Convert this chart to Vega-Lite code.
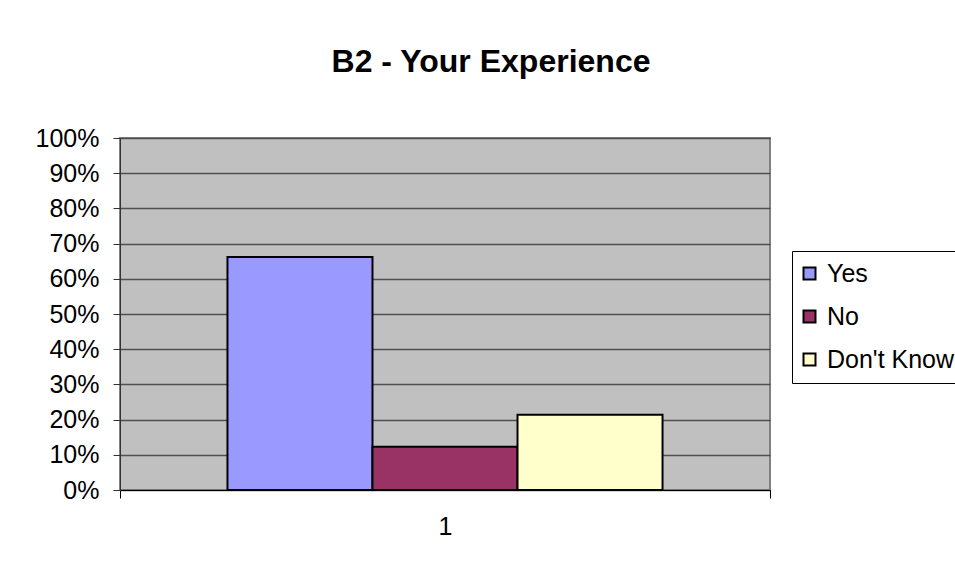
{
  "$schema": "https://vega.github.io/schema/vega-lite/v6.json",
  "autosize": "none",
  "width": 650,
  "height": 352,
  "padding": {"left": 120, "top": 138, "right": 185, "bottom": 75},
  "background": "white",
  "title": {
    "text": "B2 - Your Experience",
    "font": "Liberation Sans",
    "fontSize": 32,
    "fontWeight": "bold",
    "color": "black",
    "anchor": "middle",
    "dx": 46,
    "offset": 22,
    "baseline": "alphabetic"
  },
  "data": {
    "values": [
      {"category": "1", "answer": "Yes", "share": 0.662},
      {"category": "1", "answer": "No", "share": 0.123},
      {"category": "1", "answer": "Don't Know", "share": 0.214}
    ]
  },
  "mark": {"type": "bar", "stroke": "black", "strokeWidth": 2},
  "encoding": {
    "x": {
      "field": "category",
      "type": "nominal",
      "scale": {"paddingInner": 0, "paddingOuter": 0},
      "axis": {
        "title": null,
        "labelAngle": 0,
        "tickBand": "extent",
        "tickSize": 8,
        "tickColor": "black",
        "domainColor": "black",
        "labelFont": "Liberation Sans",
        "labelFontSize": 25,
        "labelColor": "black",
        "labelPadding": 16,
        "grid": false
      }
    },
    "xOffset": {
      "field": "answer",
      "type": "nominal",
      "sort": ["Yes", "No", "Don't Know"],
      "scale": {"paddingInner": 0, "paddingOuter": 0.741}
    },
    "y": {
      "field": "share",
      "type": "quantitative",
      "scale": {"domain": [0, 1]},
      "axis": {
        "title": null,
        "format": ".0%",
        "values": [0, 0.1, 0.2, 0.3, 0.4, 0.5, 0.6, 0.7, 0.8, 0.9, 1],
        "tickSize": 7,
        "tickColor": "#333333",
        "domainColor": "#333333",
        "labelFont": "Liberation Sans",
        "labelFontSize": 25,
        "labelColor": "black",
        "labelPadding": 14,
        "grid": true,
        "gridColor": "#505050",
        "gridWidth": 1.3
      }
    },
    "color": {
      "field": "answer",
      "type": "nominal",
      "sort": ["Yes", "No", "Don't Know"],
      "scale": {"domain": ["Yes", "No", "Don't Know"], "range": ["#9999FF", "#993366", "#FFFFCC"]},
      "legend": {
        "title": null,
        "orient": "none",
        "legendX": 672,
        "legendY": 113,
        "symbolType": "square",
        "symbolSize": 144,
        "symbolOffset": -5,
        "symbolStrokeColor": "black",
        "symbolStrokeWidth": 2,
        "labelFont": "Liberation Sans",
        "labelFontSize": 25,
        "labelColor": "black",
        "labelOffset": 5,
        "rowPadding": 17,
        "padding": 10,
        "strokeColor": "black",
        "fillColor": "white"
      }
    }
  },
  "config": {
    "view": {"fill": "#C0C0C0", "stroke": "#808080", "strokeWidth": 2}
  }
}
